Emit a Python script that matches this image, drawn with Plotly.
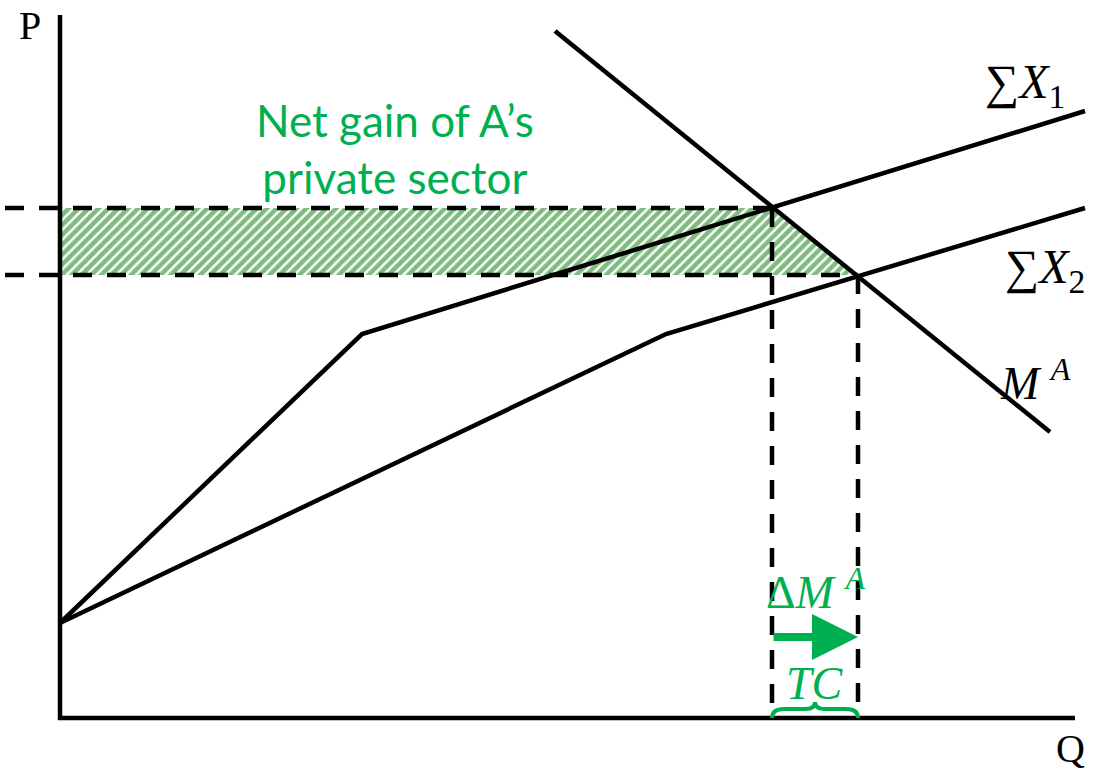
import plotly.graph_objects as go

# Abstract diagram coordinates (Q, P)
sx1_q = [0, 30.2, 102.5]
sx1_p = [9.5, 38.4, 60.7]
sx2_q = [0, 60.6, 102.5]
sx2_p = [9.5, 38.4, 51.0]
ma_q = [49.5, 99.0]
ma_p = [68.7, 28.6]
eq_q = [71.2, 79.8]      # quantities at the two equilibria
eq_p = [51.0, 44.3]      # prices at the two equilibria
gain_q = [0, 71.2, 79.8, 0]
gain_p = [51.0, 51.0, 44.3, 44.3]

GREEN = "#00B050"
fig = go.Figure()

fig.add_trace(go.Scatter(
    x=gain_q, y=gain_p, fill="toself", mode="none",
    fillcolor="white",
    fillpattern=dict(shape="/", fgcolor="#007800", bgcolor="white", size=7, solidity=0.65),
    hoverinfo="skip"))

dash = "19px,15px"
for q, p in zip(eq_q, eq_p):
    fig.add_trace(go.Scatter(x=[-5.5, q], y=[p, p], mode="lines",
                             line=dict(color="black", width=4.5, dash=dash)))
    fig.add_trace(go.Scatter(x=[q, q], y=[p, 0], mode="lines",
                             line=dict(color="black", width=4.5, dash=dash)))

for xs, ys in [(sx1_q, sx1_p), (sx2_q, sx2_p), (ma_q, ma_p)]:
    fig.add_trace(go.Scatter(x=xs, y=ys, mode="lines",
                             line=dict(color="black", width=4.5)))

# axes
fig.add_trace(go.Scatter(x=[0, 0, 101.5], y=[70.3, 0, 0], mode="lines",
                         line=dict(color="black", width=4.5)))

serif = "Liberation Serif"
ann = []
ann.append(dict(x=-3, y=69.3, text="P", font=dict(family=serif, size=40, color="black")))
ann.append(dict(x=101, y=-3, text="Q", font=dict(family=serif, size=40, color="black")))
ann.append(dict(x=96.5, y=63.3, text="∑<i>X</i><sub>1</sub>", font=dict(family=serif, size=48, color="black")))
ann.append(dict(x=98.5, y=44.8, text="∑<i>X</i><sub>2</sub>", font=dict(family=serif, size=48, color="black")))
ann.append(dict(x=97.5, y=33.8, text="<i>M</i> <sup><i>A</i></sup>", font=dict(family=serif, size=46, color="black")))
ann.append(dict(x=33.5, y=57, text="Net gain of A’s<br>private sector",
                font=dict(family="Lato", size=44, color=GREEN)))
ann.append(dict(x=75.5, y=12.9, text="Δ<i>M</i> <sup><i>A</i></sup>", font=dict(family=serif, size=46, color=GREEN)))
ann.append(dict(x=75.5, y=3.5, text="<i>TC</i>", font=dict(family=serif, size=46, color=GREEN)))
for a in ann:
    a.update(showarrow=False, xref="x", yref="y")
ann.append(dict(x=eq_q[1], y=8.1, ax=eq_q[0], ay=8.1, xref="x", yref="y", axref="x", ayref="y",
                text="", showarrow=True, arrowhead=2, arrowsize=1.15, arrowwidth=8,
                arrowcolor=GREEN, standoff=0))

# curly brace between the two equilibrium quantities
q0, q1 = eq_q
qm = (q0 + q1) / 2
brace = (f"M {q0},0 Q {q0},0.9 {q0+1.2},0.9 L {qm-1.0},0.9 Q {qm},0.9 {qm},1.6 "
         f"Q {qm},0.9 {qm+1.0},0.9 L {q1-1.2},0.9 Q {q1},0.9 {q1},0")
fig.add_shape(type="path", path=brace, xref="x", yref="y",
              line=dict(color=GREEN, width=4))

fig.update_layout(
    width=1094, height=772, margin=dict(l=0, r=0, t=0, b=0),
    paper_bgcolor="white", plot_bgcolor="white", showlegend=False,
    annotations=ann,
    xaxis=dict(range=[-6, 103.4], visible=False, fixedrange=True),
    yaxis=dict(range=[-5.4, 71.8], visible=False, fixedrange=True),
)
fig.write_html("out.html", post_script="document.body.style.margin='0';document.body.style.overflow='hidden';",
               config={"displayModeBar": False})
